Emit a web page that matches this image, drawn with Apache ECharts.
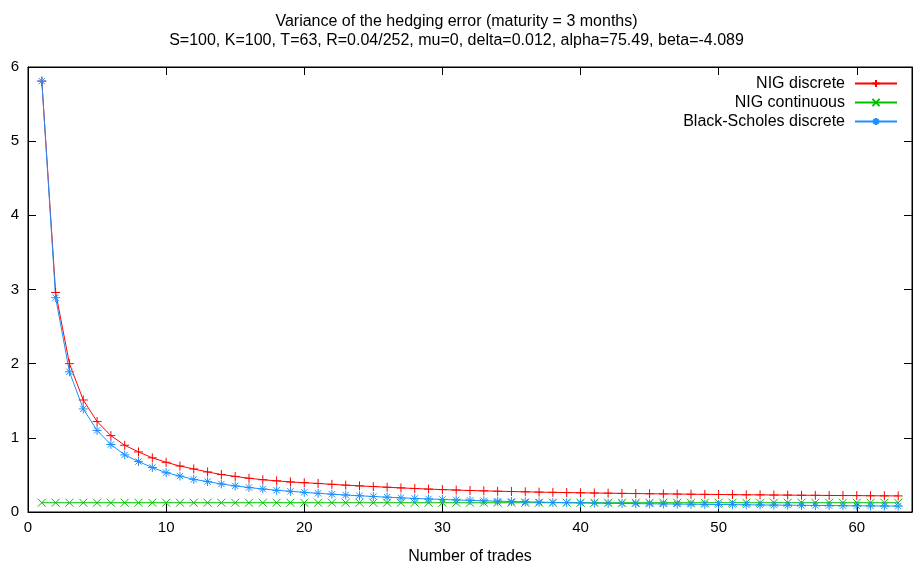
<!DOCTYPE html>
<html>
<head>
<meta charset="utf-8">
<script src="https://cdn.jsdelivr.net/npm/echarts@6/dist/echarts.min.js"></script>
<style>
  html, body { margin: 0; padding: 0; background: #fff; }
  #chart { width: 913px; height: 566px; }
</style>
</head>
<body>
<div id="chart"></div>
<script>
// number of trades 1..63
var trades = [];
for (var i = 1; i <= 63; i++) trades.push(i);

var nigDiscrete = [
  5.81, 2.96, 2.00, 1.51, 1.22, 1.03, 0.90, 0.81, 0.73, 0.67,
  0.62, 0.58, 0.54, 0.505, 0.48, 0.455, 0.435, 0.42, 0.405, 0.395,
  0.385, 0.373, 0.362, 0.352, 0.343, 0.334, 0.325, 0.317, 0.309, 0.302,
  0.296, 0.290, 0.285, 0.280, 0.276, 0.272, 0.268, 0.265, 0.262, 0.259,
  0.256, 0.254, 0.251, 0.249, 0.246, 0.244, 0.242, 0.240, 0.238, 0.236,
  0.234, 0.232, 0.231, 0.229, 0.228, 0.226, 0.225, 0.223, 0.222, 0.221,
  0.219, 0.218, 0.217
]
var nigContinuous = [
  0.125, 0.125, 0.125, 0.125, 0.125, 0.125, 0.125, 0.125, 0.125, 0.125,
  0.125, 0.125, 0.125, 0.125, 0.125, 0.125, 0.125, 0.125, 0.125, 0.125,
  0.125, 0.125, 0.125, 0.125, 0.125, 0.125, 0.125, 0.125, 0.125, 0.125,
  0.125, 0.125, 0.125, 0.125, 0.125, 0.125, 0.125, 0.125, 0.125, 0.125,
  0.125, 0.125, 0.125, 0.125, 0.125, 0.125, 0.125, 0.125, 0.125, 0.125,
  0.125, 0.125, 0.125, 0.125, 0.125, 0.125, 0.125, 0.125, 0.125, 0.125,
  0.125, 0.125, 0.125
]
var bsDiscrete = [
  5.81, 2.89, 1.89, 1.39, 1.10, 0.91, 0.77, 0.68, 0.60, 0.53,
  0.485, 0.44, 0.41, 0.378, 0.352, 0.33, 0.31, 0.293, 0.279, 0.265,
  0.252, 0.240, 0.229, 0.219, 0.209, 0.200, 0.191, 0.183, 0.176, 0.169,
  0.163, 0.157, 0.151, 0.146, 0.141, 0.137, 0.133, 0.129, 0.126, 0.122,
  0.120, 0.117, 0.115, 0.113, 0.111, 0.109, 0.107, 0.105, 0.103, 0.101,
  0.099, 0.097, 0.095, 0.093, 0.092, 0.090, 0.088, 0.087, 0.085, 0.084,
  0.082, 0.081, 0.080
]

var seriesNames = ['NIG discrete', 'NIG continuous', 'Black-Scholes discrete']
var seriesColors = ['#ff0000', '#00c000', '#1e8fff']
var markers = [
  'path://M0,5L10,5M5,0L5,10',
  'path://M0,0L10,10M0,10L10,0',
  'path://M0,5L10,5M5,0L5,10M1.5,1.5L8.5,8.5M1.5,8.5L8.5,1.5'
]

function pairs(values) {
  return values.map(function (v, idx) { return [trades[idx], v]; });
}

var font = 'Liberation Sans, Arial, sans-serif'

function makeSeries(k, values, size) {
  return {
    name: seriesNames[k],
    type: 'line',
    data: pairs(values),
    symbol: markers[k],
    symbolSize: size,
    showSymbol: true,
    lineStyle: { color: seriesColors[k], width: 1 },
    itemStyle: { color: 'none', borderColor: seriesColors[k], borderWidth: 1 },
    emphasis: { disabled: true }
  }
}

var tickStyle = { show: true, inside: true, length: 8, lineStyle: { color: '#000', width: 1 } }
var lineBlack = { show: true, onZero: false, lineStyle: { color: '#000', width: 1 } }

var chart = echarts.init(document.getElementById('chart'))

var option = {
  animation: false,
  textStyle: { fontFamily: font },
  title: {
    text: 'Variance of the hedging error (maturity = 3 months)\nS=100, K=100, T=63, R=0.04/252, mu=0, delta=0.012, alpha=75.49, beta=-4.089',
    left: 'center',
    top: 7,
    textStyle: { fontFamily: font, fontSize: 16, fontWeight: 'normal', color: '#000', lineHeight: 19 }
  },
  legend: {
    orient: 'vertical',
    right: 15,
    top: 74,
    padding: 0,
    align: 'right',
    itemWidth: 42,
    itemHeight: 9,
    itemGap: 0,
    textStyle: { fontFamily: font, fontSize: 16, color: '#000', lineHeight: 19, padding: [0, 5, 0, 0] },
    data: seriesNames
  },
  grid: {
    left: 28, right: 1, top: 67, bottom: 54,
    outerBoundsMode: 'none',
    show: true, borderColor: '#000', borderWidth: 1, backgroundColor: 'transparent'
  },
  xAxis: [{
    type: 'value',
    gridIndex: 0,
    min: 0,
    max: 64,
    interval: 10,
    position: 'bottom',
    name: 'Number of trades',
    nameLocation: 'middle',
    nameGap: 37,
    nameTextStyle: { fontFamily: font, fontSize: 16, color: '#000' },
    axisLine: lineBlack,
    axisTick: tickStyle,
    axisLabel: { color: '#000', fontSize: 15, fontFamily: font, margin: 8, showMaxLabel: false },
    splitLine: { show: false }
  }, {
    type: 'value',
    gridIndex: 0,
    show: true,
    min: 0,
    max: 64,
    interval: 10,
    position: 'top',
    axisLine: lineBlack,
    axisTick: tickStyle,
    axisLabel: { show: false },
    splitLine: { show: false }
  }],
  yAxis: [{
    type: 'value',
    gridIndex: 0,
    min: 0,
    max: 6,
    interval: 1,
    position: 'left',
    axisLine: lineBlack,
    axisTick: tickStyle,
    axisLabel: { color: '#000', fontSize: 15, fontFamily: font, margin: 9 },
    splitLine: { show: false }
  }, {
    type: 'value',
    gridIndex: 0,
    show: true,
    min: 0,
    max: 6,
    interval: 1,
    position: 'right',
    axisLine: lineBlack,
    axisTick: tickStyle,
    axisLabel: { show: false },
    splitLine: { show: false }
  }],
  series: [
    makeSeries(0, nigDiscrete, 9),
    makeSeries(1, nigContinuous, 8),
    makeSeries(2, bsDiscrete, 9),
    // empty series so the mirror axes on top and right get drawn
    { type: 'line', xAxisIndex: 1, yAxisIndex: 1, data: [], silent: true }
  ]
}

chart.setOption(option)
</script>
</body>
</html>
